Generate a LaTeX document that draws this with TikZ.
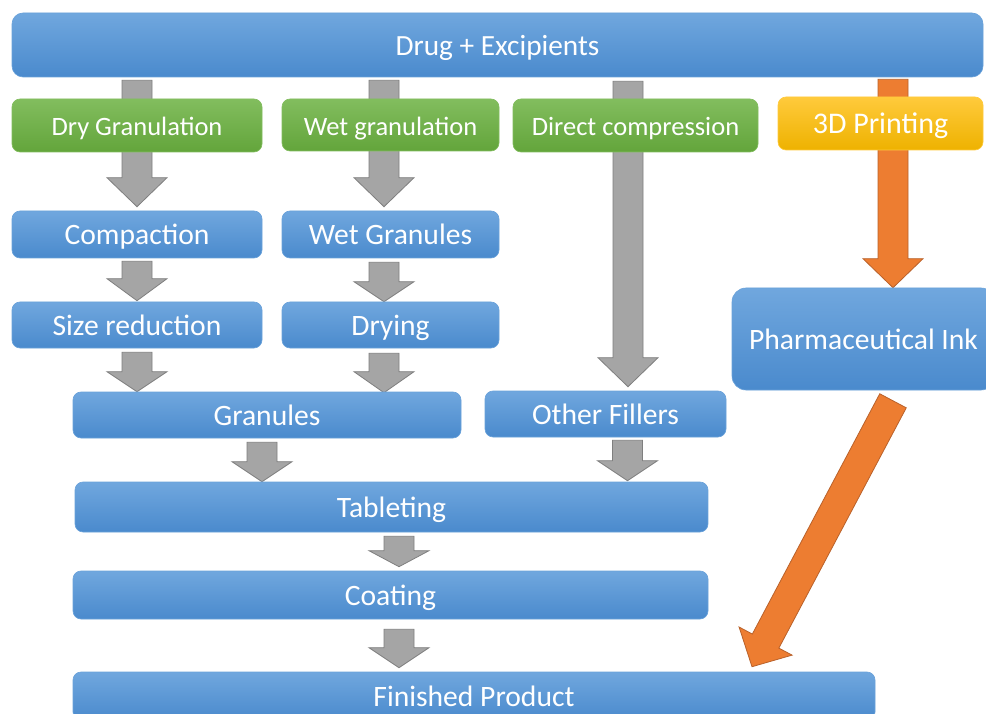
\documentclass[tikz,border=0pt]{standalone}
\usepackage{fontspec}
\setmainfont{Carlito}
\usetikzlibrary{calc,backgrounds}
\definecolor{bluetop}{HTML}{70A7DE}
\definecolor{bluebot}{HTML}{4A8ACD}
\definecolor{blueline}{HTML}{6AA2DA}
\definecolor{greentop}{HTML}{82BD5E}
\definecolor{greenbot}{HTML}{63A53B}
\definecolor{goldtop}{HTML}{FFCA3C}
\definecolor{goldbot}{HTML}{EEB200}
\definecolor{arrgray}{HTML}{A5A5A5}
\definecolor{arrgrayline}{HTML}{7F7F7F}
\definecolor{arrorange}{HTML}{ED7D31}
\definecolor{arrorangeline}{HTML}{B9612A}
\tikzset{
  procbox/.style={rounded corners=8pt, draw=blueline, line width=0.6pt,
    top color=bluetop, bottom color=bluebot, text=white, inner sep=0pt,
    font=\fontsize{29.6}{34}\selectfont, text height=24.4pt, text depth=3.4pt},
  methodbox/.style={procbox, draw=greentop, top color=greentop, bottom color=greenbot,
    font=\fontsize{26.5}{31}\selectfont, text height=22.3pt, text depth=2.2pt},
  printbox/.style={procbox, draw=goldtop, top color=goldtop, bottom color=goldbot,
    font=\fontsize{30}{35}\selectfont},
  grayarrow/.style={fill=arrgray, draw=arrgrayline, line width=0.8pt, line join=miter},
  orangearrow/.style={fill=arrorange, draw=arrorangeline, line width=0.8pt, line join=miter},
}
\newcommand\blockarr[4]{%
  \path (#2) coordinate (ba-s) (#3) coordinate (ba-e);
  \path ($(ba-e)!#4pt!(ba-s)$) coordinate (ba-h);
  \draw[#1] ($(ba-s)!15pt!90:(ba-e)$) -- ($(ba-h)!15pt!90:(ba-e)$)
    -- ($(ba-h)!30pt!90:(ba-e)$) -- (ba-e) -- ($(ba-h)!30pt!-90:(ba-e)$)
    -- ($(ba-h)!15pt!-90:(ba-e)$) -- ($(ba-s)!15pt!-90:(ba-e)$) -- cycle;
}
\begin{document}
\begin{tikzpicture}[x=1pt,y=-1pt]
\useasboundingbox (0,0) rectangle (986,714);
\clip (0,0) rectangle (986,714);
% nodes
\node[procbox, rounded corners=11pt, minimum width=971pt, minimum height=64pt,
  font=\fontsize{29.3}{34}\selectfont, text height=24.4pt, text depth=2.5pt] (drug) at (497.5,45) {Drug + Excipients};
\node[methodbox, minimum width=250pt, minimum height=53pt] (dry) at (137,125.5) {Dry Granulation};
\node[methodbox, minimum width=217pt, minimum height=52pt] (wet) at (390.5,125) {Wet granulation};
\node[methodbox, minimum width=245pt, minimum height=53pt] (direct) at (635.5,125.5) {Direct compression};
\node[printbox, minimum width=205pt, minimum height=53pt] (print) at (880.5,123.5) {3D Printing};
\node[procbox, minimum width=250pt, minimum height=47pt] (compaction) at (137,234.5) {Compaction};
\node[procbox, minimum width=217pt, minimum height=47pt] (wetgran) at (390.5,234.5) {Wet Granules};
\node[procbox, minimum width=250pt, minimum height=46pt] (size) at (137,325) {Size reduction};
\node[procbox, minimum width=217pt, minimum height=46pt] (drying) at (390.5,325) {Drying};
\node[procbox, minimum width=388pt, minimum height=46pt] (granules) at (267,415) {Granules};
\node[procbox, minimum width=241pt, minimum height=46pt] (fillers) at (605.5,414) {Other Fillers};
\node[procbox, rounded corners=14pt, minimum width=263pt, minimum height=102pt] (ink) at (863.5,339) {Pharmaceutical Ink};
\node[procbox, minimum width=633pt, minimum height=50pt] (tableting) at (391.5,507) {Tableting};
\node[procbox, minimum width=635pt, minimum height=48pt] (coating) at (390.5,595) {Coating};
\node[procbox, minimum width=802pt, minimum height=48pt] (finished) at (474,696) {Finished Product};
% arrows
\begin{scope}[on background layer]
\fill[white] (0,0) rectangle (986,714);
\blockarr{grayarrow}{$(drug.south -| dry.center)+(0,3)$}{$(compaction.north)+(0,-4)$}{29}
\blockarr{grayarrow}{$(drug.south -| wetgran.center)+(-6.5,3)$}{$(wetgran.north)+(-6.5,-4)$}{29}
\blockarr{grayarrow}{$(drug.south -| fillers.center)+(22.5,4)$}{$(fillers.north)+(22.5,-4)$}{29}
\blockarr{orangearrow}{$(drug.south -| ink.center)+(29.5,2)$}{$(ink.north)+(29.5,0)$}{29}
\blockarr{grayarrow}{$(compaction.south)+(0,3)$}{$(size.north)+(0,-1)$}{22}
\blockarr{grayarrow}{$(wetgran.south)+(-6.5,4)$}{$(drying.north)+(-6.5,0)$}{20}
\blockarr{grayarrow}{$(size.south)+(0,4)$}{$(granules.north -| size.south)$}{20}
\blockarr{grayarrow}{$(drying.south)+(-6.5,5)$}{$(granules.north -| drying.south)+(-6.5,1)$}{21}
\blockarr{grayarrow}{$(granules.south)+(-5,4)$}{$(tableting.north -| granules.south)+(-5,0)$}{20}
\blockarr{grayarrow}{$(fillers.south)+(22,3)$}{$(tableting.north -| fillers.south)+(22,-1)$}{20}
\blockarr{grayarrow}{$(tableting.south)+(7.5,4)$}{$(coating.north)+(8.5,-4)$}{16}
\blockarr{grayarrow}{$(coating.south)+(8.5,10)$}{$(finished.north -| coating.south)+(8.5,-4)$}{20}
\blockarr{orangearrow}{$(ink.south)+(29.5,10.5)$}{$(finished.north)+(278,-5)$}{29}
\end{scope}
\end{tikzpicture}
\end{document}
